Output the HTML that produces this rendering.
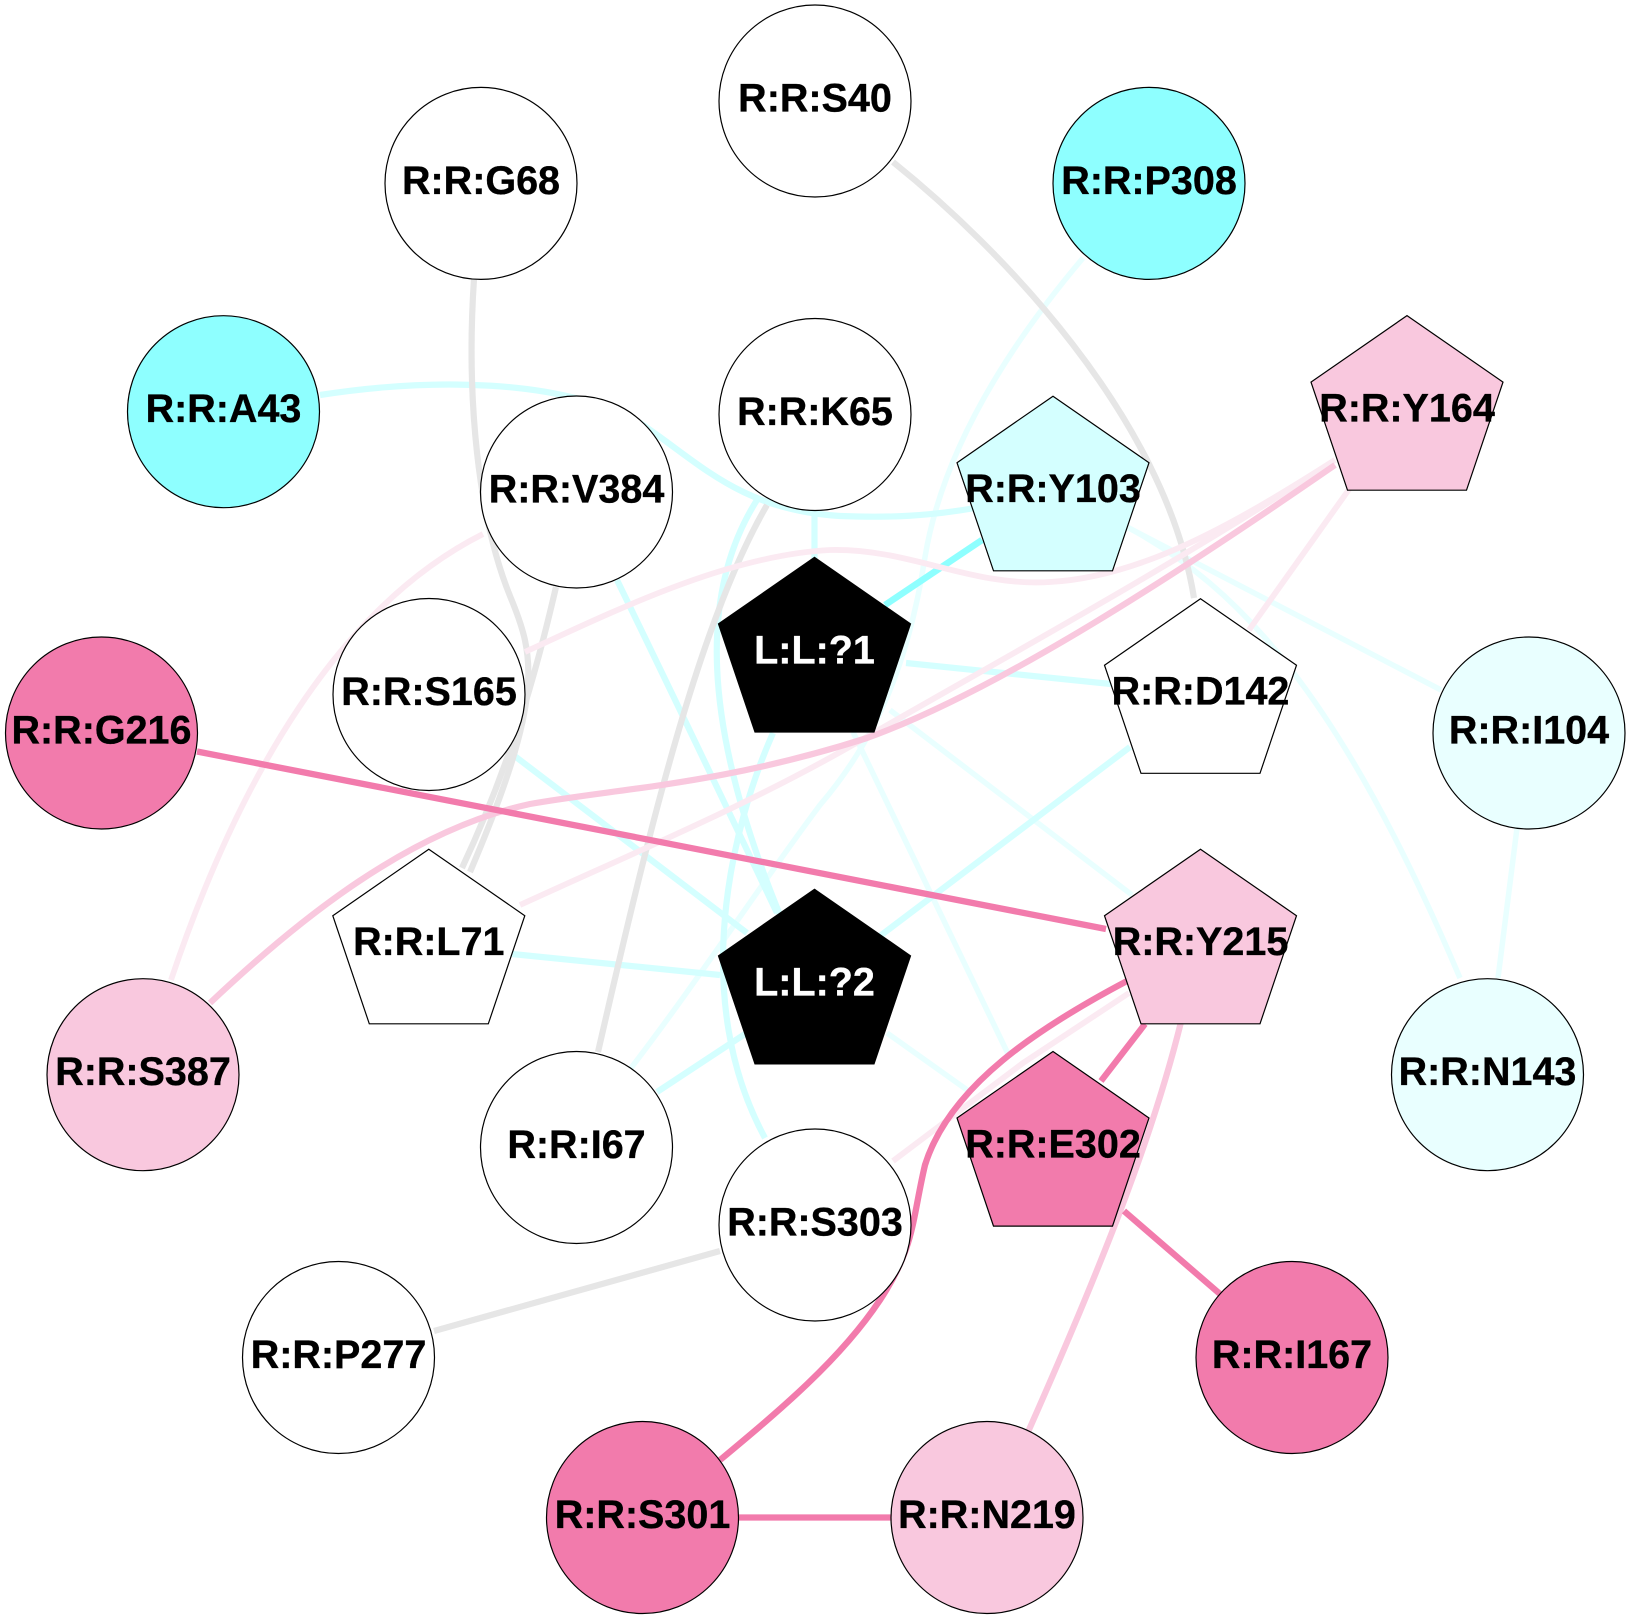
<!DOCTYPE html>
<html><head><meta charset="utf-8"><style>
html,body{margin:0;padding:0;background:#fff}
svg{display:block}
text{font-family:"Liberation Sans",Arial,sans-serif;font-weight:bold;font-size:39.5px;text-anchor:middle;fill:#000;stroke:#000;stroke-width:.35}
text.w{fill:#fff;stroke:#fff}
.e{fill:none;stroke-width:5.5}
.g{stroke:#e6e6e6;stroke-width:6.2}.c1{stroke:#8effff;stroke-width:6.5}.c2{stroke:#d4ffff;stroke-width:6.2}.c3{stroke:#e9ffff}
.p1{stroke:#f27bac;stroke-width:6.3}.p2{stroke:#f9c8de;stroke-width:6.2}.p3{stroke:#fbeaf2;stroke-width:5.8}
.n{stroke:#000;stroke-width:1.2}
</style></head><body>
<svg width="1629" height="1619" viewBox="0 0 1629 1619" xmlns="http://www.w3.org/2000/svg">
<defs><path id="pent" d="M0 0L96 66.5L59.5 174.6H-59.5L-96 66.5Z"/></defs>
<rect width="1629" height="1619" fill="#fff"/>
<!-- palest cyan -->
<path class="e c3" d="M1083 258C990 368 940 467 925 557C910 655 880 735 820 805C760 885 700 978 631 1068"/>
<path class="e c3" d="M890 710L1132 895"/>
<path class="e c3" d="M853 732L1010 1058"/>
<path class="e c3" d="M887 1033L970 1092"/>
<path class="e c3" d="M1127 527C1240 587 1340 696 1460 978"/>
<path class="e c3" d="M1127 527L1441 690"/>
<path class="e c3" d="M1517 828L1498 978"/>
<!-- pale cyan -->
<path class="e c2" d="M320 395C430 378 560 378 640 423C700 463 740 510 840 516C890 518 930 516 975 508"/>
<path class="e c2" d="M814.5 510V560"/>
<path class="e c2" d="M906 663L1111 684"/>
<path class="e c2" d="M617 580Q690 730 777 913"/>
<path class="e c2" d="M773 733C730 830 690 1000 765 1138"/>
<path class="e c2" d="M757 500C700 590 700 720 780 915"/>
<path class="e c2" d="M512 754L747 933"/>
<path class="e c2" d="M512 954L720 975"/>
<path class="e c2" d="M657 1092L748 1032"/>
<path class="e c2" d="M1130 747L880 936"/>
<path class="e c1" d="M885 605L982 540"/>
<!-- gray -->
<path class="e g" d="M893 162C1000 248 1165 417 1194 598"/>
<path class="e g" d="M474 279C466 398 478 517 510 596C535 656 545 696 470 872"/>
<path class="e g" d="M556 587C540 656 515 755 462 868"/>
<path class="e g" d="M767 505C700 620 650 825 598 1052"/>
<path class="e g" d="M720 1251L434 1331"/>
<!-- palest pink -->
<path class="e p3" d="M483 534C340 606 240 775 171 980"/>
<path class="e p3" d="M525 652C620 608 730 555 830 550C910 548 970 587 1050 582C1140 577 1230 527 1335 460"/>
<path class="e p3" d="M520 905C640 850 760 800 870 735C1000 660 1170 568 1335 460"/>
<path class="e p3" d="M1249 630L1350 488"/>
<path class="e p3" d="M1129 993L1023 1063L893 1161"/>
<!-- light pink -->
<path class="e p2" d="M210 1003C300 918 410 830 530 804C620 788 720 785 867 738C1000 690 1180 572 1335 465"/>
<path class="e p2" d="M1181 1022C1155 1127 1110 1247 1028 1432"/>
<!-- dark pink -->
<path class="e p1" d="M197 751.5L1106 929"/>
<path class="e p1" d="M1127 981C1040 1027 950 1085 925 1165C912 1220 915 1247 880 1300C840 1360 780 1410 720 1460"/>
<path class="e p1" d="M1145 1024L1101 1081"/>
<path class="e p1" d="M1124 1211L1220 1294"/>
<path class="e p1" d="M739 1517.5H891"/>
<!-- nodes -->
<g class="n">
<circle cx="815" cy="101" r="96" fill="#fff"/>
<circle cx="481" cy="183.4" r="96" fill="#fff"/>
<circle cx="1149" cy="183.4" r="96" fill="#8effff"/>
<circle cx="223.5" cy="411.7" r="96" fill="#8effff"/>
<circle cx="815" cy="414.5" r="96" fill="#fff"/>
<circle cx="576.5" cy="492" r="96" fill="#fff"/>
<circle cx="429" cy="694.5" r="96" fill="#fff"/>
<circle cx="101.5" cy="733" r="96" fill="#f27bac"/>
<circle cx="1529" cy="733" r="96" fill="#e9ffff"/>
<circle cx="143" cy="1074.7" r="96" fill="#f9c8de"/>
<circle cx="1487.5" cy="1074.7" r="96" fill="#e9ffff"/>
<circle cx="576.5" cy="1147.5" r="96" fill="#fff"/>
<circle cx="815" cy="1225" r="96" fill="#fff"/>
<circle cx="338.5" cy="1357.5" r="96" fill="#fff"/>
<circle cx="1292" cy="1357.5" r="96" fill="#f27bac"/>
<circle cx="642.5" cy="1517.5" r="96" fill="#f27bac"/>
<circle cx="987" cy="1517.5" r="96" fill="#f9c8de"/>
<use href="#pent" x="1053" y="396.2" fill="#d4ffff"/>
<use href="#pent" x="1407" y="315.6" fill="#f9c8de"/>
<use href="#pent" x="1200.5" y="598.7" fill="#fff"/>
<use href="#pent" x="814.5" y="557.4" fill="#000"/>
<use href="#pent" x="428.8" y="849.2" fill="#fff"/>
<use href="#pent" x="1200.5" y="849.2" fill="#f9c8de"/>
<use href="#pent" x="814.5" y="889.3" fill="#000"/>
<use href="#pent" x="1053" y="1051.5" fill="#f27bac"/>
</g>
<!-- labels -->
<text x="815" y="111.5">R:R:S40</text>
<text x="481" y="193.8">R:R:G68</text>
<text x="1149" y="193.8">R:R:P308</text>
<text x="223.5" y="422">R:R:A43</text>
<text x="815" y="425">R:R:K65</text>
<text x="576.5" y="502.5">R:R:V384</text>
<text x="1053" y="502">R:R:Y103</text>
<text x="1407" y="421.5">R:R:Y164</text>
<text x="429" y="705">R:R:S165</text>
<text x="101.5" y="743.5">R:R:G216</text>
<text x="1200.5" y="704.5">R:R:D142</text>
<text x="1529" y="743.5">R:R:I104</text>
<text class="w" x="814.5" y="663.5">L:L:?1</text>
<text x="428.8" y="955">R:R:L71</text>
<text x="1200.5" y="955">R:R:Y215</text>
<text class="w" x="814.5" y="995.5">L:L:?2</text>
<text x="143" y="1085">R:R:S387</text>
<text x="1487.5" y="1085">R:R:N143</text>
<text x="576.5" y="1158">R:R:I67</text>
<text x="1053" y="1157.5">R:R:E302</text>
<text x="815" y="1235.5">R:R:S303</text>
<text x="338.5" y="1368">R:R:P277</text>
<text x="1292" y="1368">R:R:I167</text>
<text x="642.5" y="1528">R:R:S301</text>
<text x="987" y="1528">R:R:N219</text>
</svg>
</body></html>
